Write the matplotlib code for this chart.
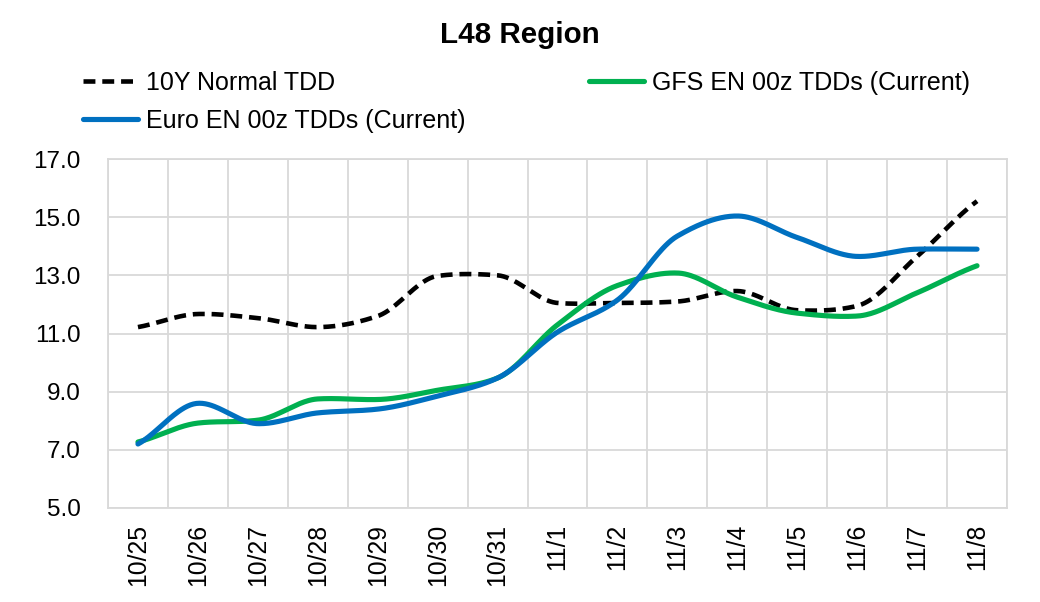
import numpy as np
import matplotlib
matplotlib.use("Agg")
import matplotlib.pyplot as plt

plt.rcParams['font.family'] = ['Liberation Sans', 'DejaVu Sans']

dates = ["10/25", "10/26", "10/27", "10/28", "10/29", "10/30", "10/31",
         "11/1", "11/2", "11/3", "11/4", "11/5", "11/6", "11/7", "11/8"]
normal_tdd = [11.22, 11.67, 11.53, 11.22, 11.6, 12.98, 13.0, 12.05, 12.05,
              12.1, 12.46, 11.8, 11.95, 13.65, 15.55]
gfs_tdd = [7.27, 7.92, 8.02, 8.75, 8.73, 9.05, 9.47, 11.3, 12.65, 13.08,
           12.25, 11.7, 11.6, 12.4, 13.33]
euro_tdd = [7.2, 8.6, 7.9, 8.27, 8.4, 8.85, 9.47, 11.05, 12.15, 14.35,
            15.04, 14.3, 13.65, 13.9, 13.9]


def smooth(xs, ys, n=40):
    """Smoothed line through the points (blend of Catmull-Rom and monotone tangents)."""
    xs = np.asarray(xs, float)
    ys = np.asarray(ys, float)
    h = np.diff(xs)
    d = np.diff(ys) / h
    m = np.zeros_like(ys)
    for i in range(1, len(ys) - 1):
        cr = (ys[i + 1] - ys[i - 1]) / (xs[i + 1] - xs[i - 1])
        if d[i - 1] * d[i] <= 0:
            mono = 0.0
        else:
            mono = 2 * d[i - 1] * d[i] / (d[i - 1] + d[i])
        m[i] = 0.35 * cr + 0.65 * mono
    m[0] = d[0] * 0.8
    m[-1] = d[-1] * 0.8
    ox, oy = [], []
    t = np.linspace(0, 1, n, endpoint=False)
    for i in range(len(xs) - 1):
        h00 = 2 * t ** 3 - 3 * t ** 2 + 1
        h10 = t ** 3 - 2 * t ** 2 + t
        h01 = -2 * t ** 3 + 3 * t ** 2
        h11 = t ** 3 - t ** 2
        ox.extend(xs[i] + t * h[i])
        oy.extend(h00 * ys[i] + h10 * h[i] * m[i] + h01 * ys[i + 1] + h11 * h[i] * m[i + 1])
    ox.append(xs[-1])
    oy.append(ys[-1])
    return np.array(ox), np.array(oy)


fig = plt.figure(figsize=(10.4, 6.02), dpi=100)
ax = fig.add_axes([108 / 1040, 1 - 508 / 602, (1007 - 108) / 1040, (508 - 159) / 602])

x = np.arange(len(dates))
sx, sy = smooth(x, normal_tdd)
l1, = ax.plot(sx, sy, color='black', lw=3.3, linestyle=(0, (2.6, 1.5)),
              label='10Y Normal TDD', zorder=3)
sx, sy = smooth(x, euro_tdd)
l3, = ax.plot(sx, sy, color='#0070C0', lw=3.7, label='Euro EN 00z TDDs (Current)',
              solid_capstyle='round', zorder=4)
sx, sy = smooth(x, gfs_tdd)
l2, = ax.plot(sx, sy, color='#00B050', lw=3.7, label='GFS EN 00z TDDs (Current)',
              solid_capstyle='round', zorder=3.5)

ax.set_xlim(-0.5, len(dates) - 0.5)
ax.set_ylim(5, 17)
yt = np.arange(5, 17.1, 2)
ax.set_yticks(yt)
ax.set_yticklabels([f"{v:.1f}" for v in yt], fontsize=17.5)
ax.set_xticks(x)
ax.set_xticklabels(dates, rotation=90, fontsize=17.8)
ax.set_xticks(np.arange(-0.5, len(dates), 1), minor=True)
ax.grid(True, which='minor', axis='x', color='#d9d9d9', lw=1.3)
ax.grid(True, which='major', axis='y', color='#d9d9d9', lw=1.3)
ax.grid(False, which='major', axis='x')
ax.tick_params(which='both', length=0)
ax.tick_params(axis='y', pad=19.5)
ax.tick_params(axis='x', pad=11.5)
for s in ax.spines.values():
    s.set_color('#d9d9d9')
    s.set_linewidth(1.3)

fig.text(0.5, 1 - 35 / 602, "L48 Region", ha='center', va='center',
         fontsize=21.3, fontweight='bold')

fig.legend(handles=[l1, l3, l2], loc='upper left', bbox_to_anchor=(83 / 1040, 1 - 71 / 602),
           ncol=2, frameon=False, fontsize=18, handlelength=2.2, handletextpad=0.32,
           columnspacing=4.95, labelspacing=0.55, borderaxespad=0, borderpad=0)

fig.savefig("out.png", dpi=100)
